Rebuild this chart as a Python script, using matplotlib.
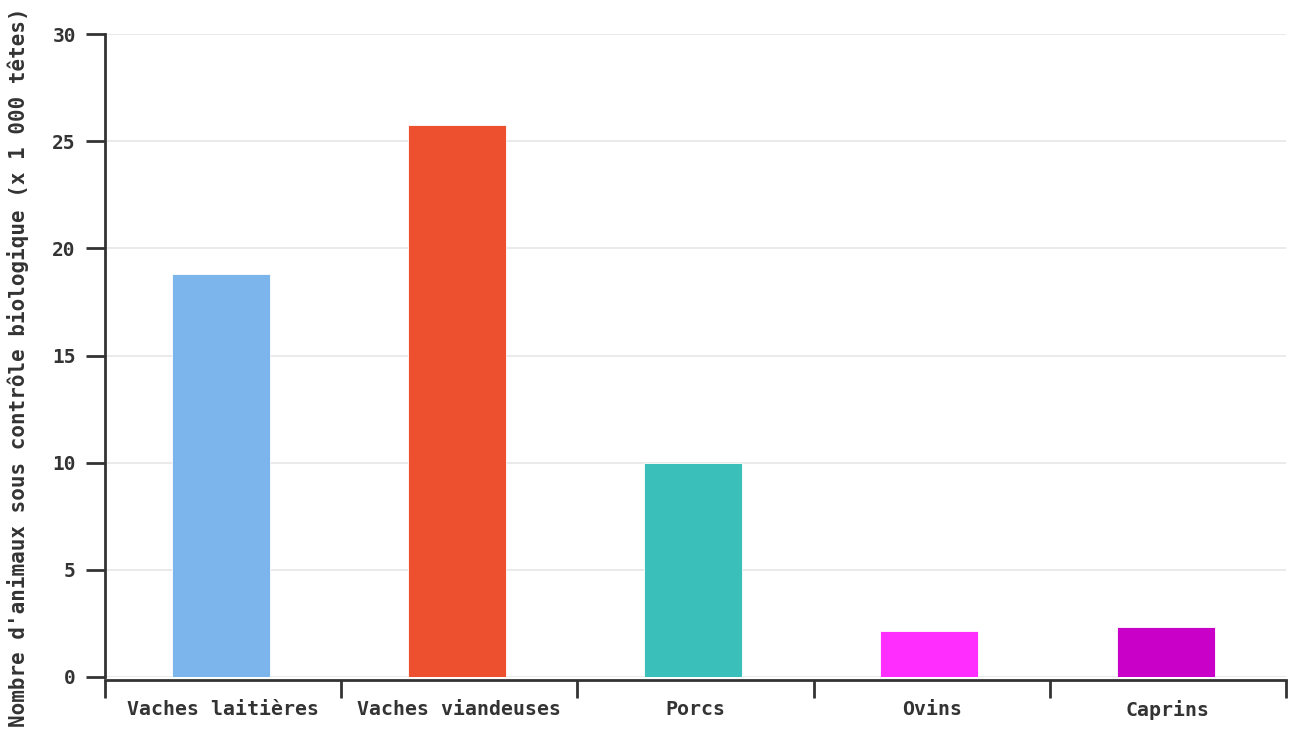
import numpy as np
import matplotlib.pyplot as plt

# data
categories = ["Vaches laitières", "Vaches viandeuses", "Porcs", "Ovins", "Caprins"]
values = [18.8, 25.75, 10.0, 2.15, 2.33]
colors = ["#7cb4ec", "#ed502f", "#3abfba", "#ff2eff", "#c800c8"]
yticks = [0, 5, 10, 15, 20, 25, 30]
ylabel = "Nombre d'animaux sous contrôle biologique (x 1 000 têtes)"

axc = "#333333"
plt.rcParams["font.family"] = "DejaVu Sans Mono"
plt.rcParams["font.weight"] = "bold"
plt.rcParams["xtick.labelsize"] = 14.3
plt.rcParams["ytick.labelsize"] = 14
plt.rcParams["xtick.labelcolor"] = axc
plt.rcParams["ytick.labelcolor"] = axc

W, H = 1294, 729
fig = plt.figure(figsize=(W / 100, H / 100), dpi=100)
ax = fig.add_axes([105 / W, (H - 677) / H, (1286 - 105) / W, (677 - 34) / H])

x = np.arange(len(categories))
ax.set_axisbelow(True)
ax.grid(axis="y", color="#e6e6e6", linewidth=1.2)
ax.bar(x - 0.01, values, width=0.415, color=colors, edgecolor="white", linewidth=0.6, zorder=3)

ax.set_xlim(-0.5, len(categories) - 0.5)
ax.set_ylim(0, 30)
ax.set_yticks(yticks)
ax.set_yticklabels([str(v) for v in yticks])
ax.tick_params(axis="y", length=14, width=2, color=axc, pad=7)

ax.set_xticks(np.arange(-0.5, len(categories), 1.0), minor=True)
ax.set_xticks(x)
ax.set_xticklabels(categories, va="baseline")
ax.tick_params(axis="x", which="major", length=0, pad=14.5)
ax.tick_params(axis="x", which="minor", length=13, width=2, color=axc)

for s in ["top", "right"]:
    ax.spines[s].set_visible(False)
ax.spines["left"].set_linewidth(2)
ax.spines["left"].set_color(axc)
ax.spines["bottom"].set_linewidth(2)
ax.spines["bottom"].set_color(axc)
ax.spines["bottom"].set_position(("outward", 2))

fig.text(18 / W, 1 - 727 / H, ylabel, rotation=90, ha="center", va="bottom",
         fontsize=15, color=axc)

fig.savefig("out.png", dpi=100)
